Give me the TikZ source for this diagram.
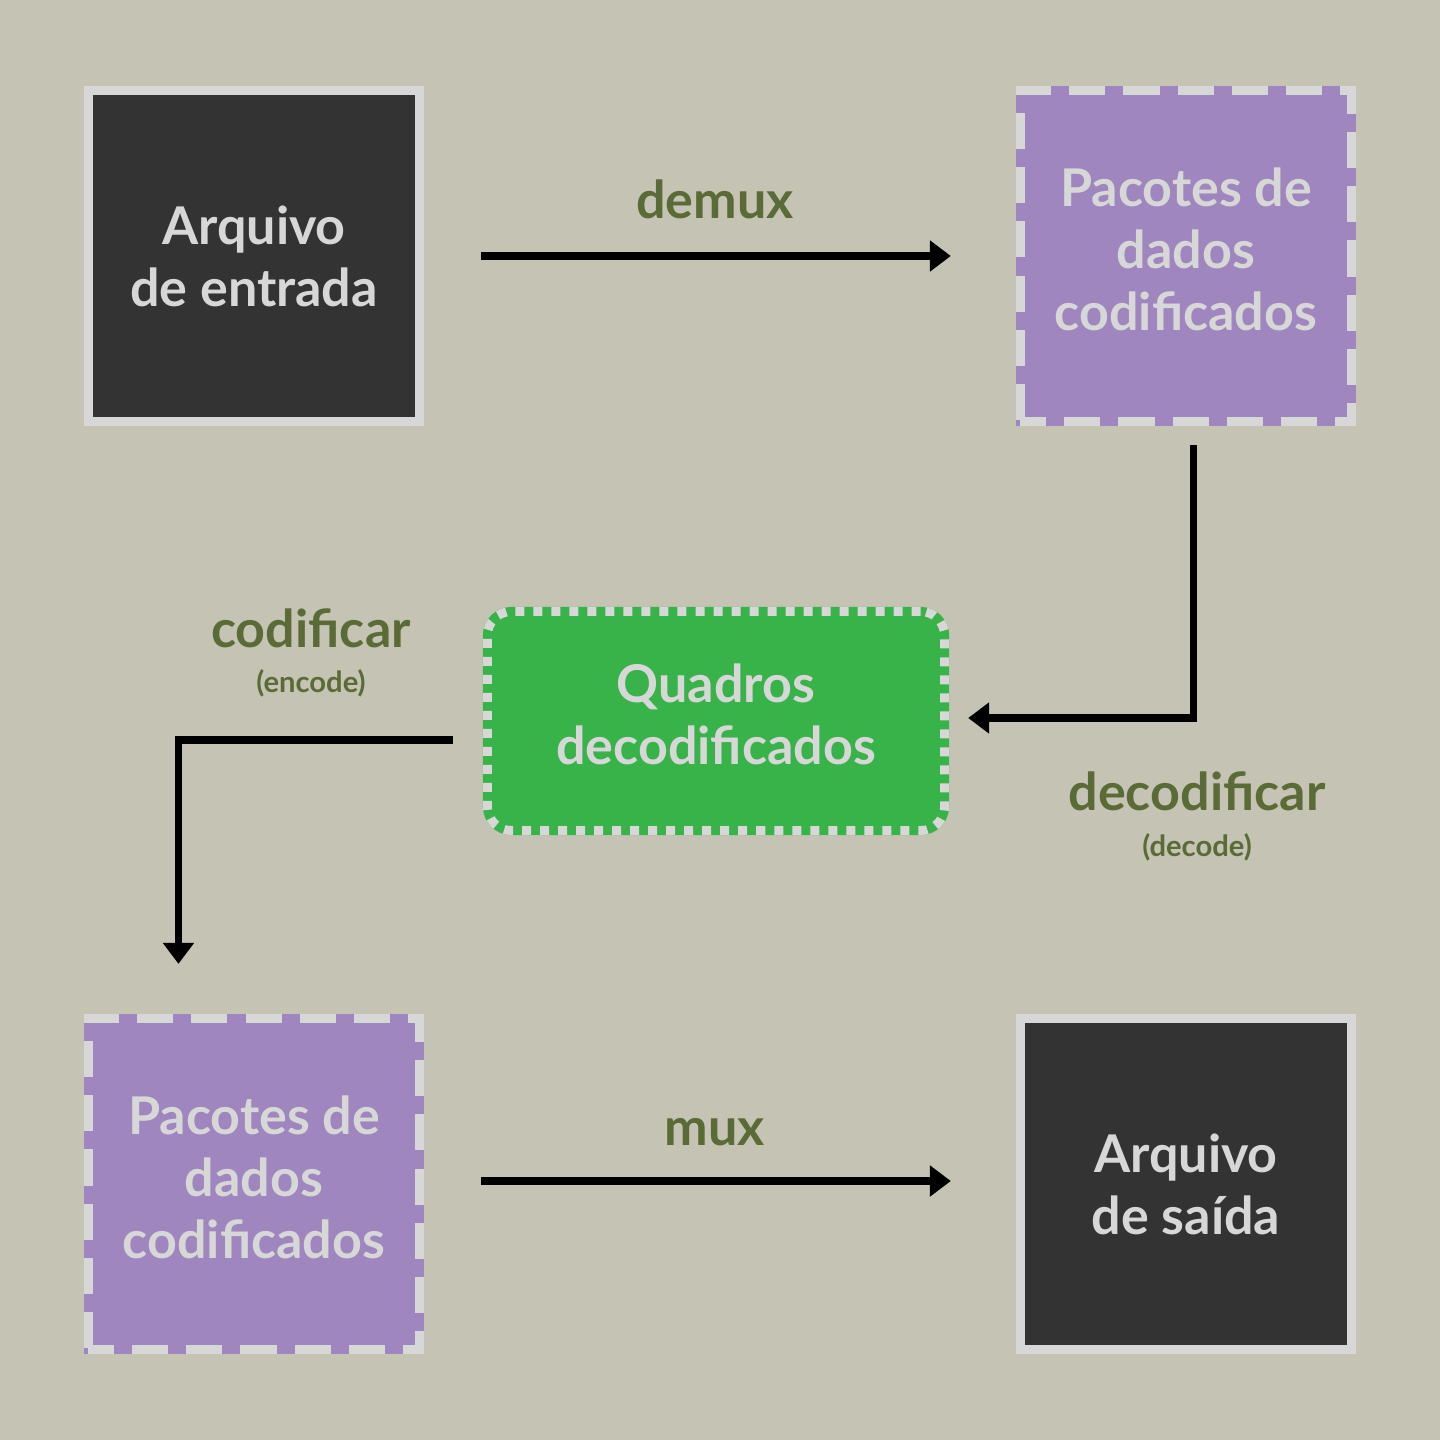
\documentclass[tikz,border=0pt]{standalone}
\usepackage{fontspec}
\setmainfont{Lato}
\usetikzlibrary{
  arrows.meta,
  calc
}
\definecolor{fundo}{HTML}{C5C3B3}
\definecolor{escuro}{HTML}{333333}
\definecolor{claro}{HTML}{D7D7D7}
\definecolor{roxo}{HTML}{A086BE}
\definecolor{verde}{HTML}{37B34A}
\definecolor{oliva}{HTML}{5A6B38}
\tikzset{
  caixa/.style={
    minimum width=33.1mm, minimum height=33.1mm, inner sep=0pt,
    line width=0.9mm, draw=claro, text=claro, align=center,
    font=\fontsize{14.8}{17.6}\selectfont\bfseries
  },
  arquivo/.style={
    caixa, fill=escuro
  },
  pacotes/.style={
    caixa, text depth=1.4mm,
    preaction={draw=roxo, fill=roxo, solid},
    dash pattern=on 3.6mm off 1.8mm, dash phase=1mm
  },
  quadros/.style={
    caixa, minimum width=45.7mm, minimum height=21.9mm,
    rounded corners=2.4mm, text depth=1.4mm,
    preaction={draw=verde, fill=verde, solid},
    dash pattern=on 0.9mm off 0.9mm
  },
  rotulo/.style={
    text=oliva, anchor=base, inner sep=0pt,
    font=\fontsize{14.8}{17.6}\selectfont\bfseries
  },
  subrotulo/.style={
    text=oliva, anchor=base, inner sep=0pt,
    font=\fontsize{8.3}{10}\selectfont\bfseries
  },
  seta/.style={
    line width=0.75mm, -{Triangle[length=2.1mm,width=3mm]}
  }
}
\begin{document}
\begin{tikzpicture}[x=0.01cm, y=-0.01cm]
\fill[fundo] (0,0) rectangle (1440,1440);

\node[arquivo] (entrada) at (254,256) {Arquivo\\de entrada};
\node[pacotes] (pacotes1) at (1186,256) {Pacotes de\\dados\\codificados};
\node[quadros] (quadros) at (716,721) {Quadros\\decodificados};
\node[pacotes] (pacotes2) at (254,1184) {Pacotes de\\dados\\codificados};
\node[arquivo] (saida) at (1186,1184) {Arquivo\\de saída};

% rotulos das setas
\node[rotulo] (demux) at (715,219) {demux};
\node[rotulo] (decod) at (1197,810) {decodificar};
\node[subrotulo] (decode) at (1197,856) {(decode)};
\node[rotulo] (cod) at (311,647) {codificar};
\node[subrotulo] (encode) at (311,692) {(encode)};
\node[rotulo] (mux) at (715,1145) {mux};

\draw[seta, shorten <=5.7mm, shorten >=6.5mm] (entrada.east) -- (pacotes1.west);
\draw[seta] ([xshift=0.75mm,yshift=-1.9mm]pacotes1.south)
  |- ([xshift=1.9mm,yshift=0.3mm]quadros.east);
\draw[seta] ([xshift=-3mm,yshift=-1.9mm]quadros.west)
  -| ([xshift=-7.55mm,yshift=5mm]pacotes2.north);
\draw[seta, shorten <=5.7mm, shorten >=6.5mm] ([yshift=0.3mm]pacotes2.east)
  -- ([yshift=0.3mm]saida.west);
\end{tikzpicture}
\end{document}
